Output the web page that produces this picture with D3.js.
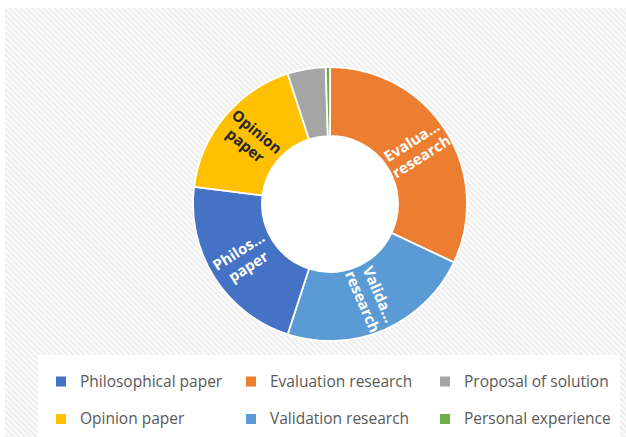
<!DOCTYPE html>
<html>
<head>
<meta charset="utf-8">
<script src="https://cdn.jsdelivr.net/npm/d3@7"></script>
<style>
  html, body { margin: 0; padding: 0; background: #ffffff; }
  svg { display: block; }
</style>
</head>
<body>
<svg id="chart" width="626" height="437"></svg>
<script>
// Study types (drawn clockwise from 12 o'clock, largest first)
const categories = ["Evaluation research", "Validation research", "Philosophical paper",
                    "Opinion paper", "Proposal of solution", "Personal experience"];
const counts = [64, 46, 44, 36, 9, 1];
const colors = ["#ED7D31", "#5B9BD5", "#4472C4", "#FFC000", "#A5A5A5", "#70AD47"];
// In-ring labels (truncated as they appear on the ring)
const sliceLabels = [["Evalua...", "research"], ["Valida...", "research"], ["Philos...", "paper"],
                     ["Opinion", "paper"], [], []];
const labelColors = ["#ffffff", "#ffffff", "#ffffff", "#262626", "#ffffff", "#ffffff"];
// Legend order (row by row)
const legendOrder = ["Philosophical paper", "Evaluation research", "Proposal of solution",
                     "Opinion paper", "Validation research", "Personal experience"];

const svg = d3.select("#chart");
const W = 626, H = 437;

// Striped chart-area background
const defs = svg.append("defs");
const pat = defs.append("pattern")
  .attr("id", "stripes")
  .attr("patternUnits", "userSpaceOnUse")
  .attr("width", 4).attr("height", 4)
  .attr("patternTransform", "rotate(-45)");
pat.append("rect").attr("width", 4).attr("height", 4).attr("fill", "#fbfbfb");
pat.append("rect").attr("width", 1.6).attr("height", 4).attr("fill", "#ececec");

svg.append("rect").attr("x", 0).attr("y", 0).attr("width", W).attr("height", H).attr("fill", "#ffffff");
svg.append("rect").attr("x", 5).attr("y", 8).attr("width", W - 5).attr("height", H - 8)
  .attr("fill", "url(#stripes)");

// Doughnut
const cx = 330, cy = 204, rOuter = 137, rInner = 68;
const pie = d3.pie().sort(null).value(d => d)(counts);
const arc = d3.arc().innerRadius(rInner).outerRadius(rOuter);
const labelArc = d3.arc().innerRadius((rInner + rOuter) / 2).outerRadius((rInner + rOuter) / 2);

const g = svg.append("g").attr("transform", `translate(${cx},${cy})`);
g.append("circle").attr("r", rInner).attr("fill", "#ffffff");

// clip paths so each label stays inside its own slice
pie.forEach((d, i) => {
  defs.append("clipPath").attr("id", `clip-${i}`)
    .append("path")
    .attr("transform", `translate(${cx},${cy})`)
    .attr("d", arc(d));
});

g.selectAll("path.slice")
  .data(pie)
  .join("path")
  .attr("class", "slice")
  .attr("d", arc)
  .attr("fill", (d, i) => colors[i])
  .attr("stroke", "#ffffff")
  .attr("stroke-width", 1.8);

// Radial labels, flipped on the left half so they stay upright
const labelLayer = svg.append("g");
pie.forEach((d, i) => {
  const lines = sliceLabels[i];
  if (!lines.length) return;
  const [x, y] = labelArc.centroid(d);
  const mid = (d.startAngle + d.endAngle) / 2 * 180 / Math.PI;
  let rot = mid - 90;
  if (mid > 180) rot -= 180;
  const lh = 18;
  const holder = labelLayer.append("g").attr("clip-path", `url(#clip-${i})`);
  const t = holder.append("g")
    .attr("transform", `translate(${cx + x},${cy + y}) rotate(${rot})`)
    .append("text")
    .attr("text-anchor", "middle")
    .attr("font-family", "'Open Sans', 'Noto Sans', sans-serif")
    .attr("font-weight", "bold")
    .attr("font-size", 15)
    .attr("fill", labelColors[i]);
  lines.forEach((s, k) => {
    t.append("tspan")
      .attr("x", 0)
      .attr("y", (k - (lines.length - 1) / 2) * lh)
      .attr("dy", "0.35em")
      .text(s);
  });
});

// Legend box
svg.append("rect").attr("x", 38).attr("y", 355).attr("width", 582).attr("height", 82)
  .attr("fill", "#ffffff");

const colX = [56, 246, 440];
const rowY = [381.5, 419];
const legend = svg.append("g");
legendOrder.forEach((name, k) => {
  const idx = categories.indexOf(name);
  const x = colX[k % 3], y = rowY[Math.floor(k / 3)];
  legend.append("rect")
    .attr("x", x).attr("y", y - 5).attr("width", 10).attr("height", 10)
    .attr("fill", colors[idx]);
  legend.append("text")
    .attr("x", x + 24).attr("y", y)
    .attr("dy", "0.35em")
    .attr("font-family", "'Open Sans', 'Noto Sans', sans-serif")
    .attr("font-size", 15.5)
    .attr("fill", "#595959")
    .text(name);
});
</script>
</body>
</html>
